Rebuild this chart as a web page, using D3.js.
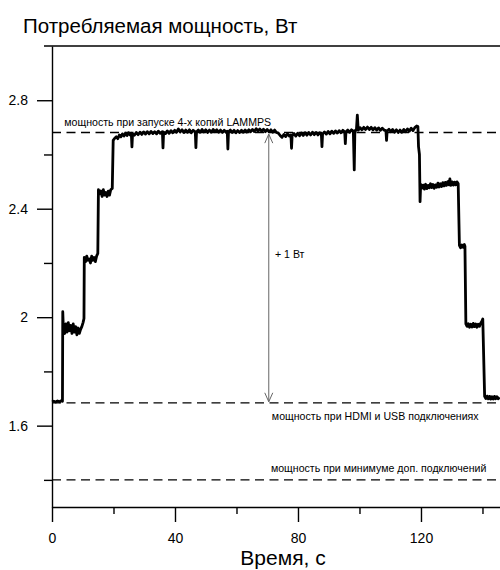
<!DOCTYPE html>
<html>
<head>
<meta charset="utf-8">
<script src="https://cdn.jsdelivr.net/npm/d3@7"></script>
<style>
  body { margin: 0; background: #fff; }
  svg { display: block; font-family: Arial, "Liberation Sans", sans-serif; }
  .axis path, .axis line { stroke: #000; stroke-width: 1.4; }
  .axis text { font-size: 14px; fill: #000; }
  .note { font-size: 10.6px; fill: #000; }
</style>
</head>
<body>
<div id="chart"></div>
<script>
/* CONSTANTS AND GLOBALS */
const width = 500,
  height = 570,
  margin = { top: 46, bottom: 63, left: 52, right: 0 };

// measured power trace: [time, s ; power, W]
const trace = [
  [0, 1.688], [0.6, 1.690], [1.2, 1.687], [1.8, 1.691], [2.4, 1.688], [3.0, 1.692], [3.4, 1.690],
  [3.5, 2.02], [3.7, 1.955], [4.1, 1.94], [4.5, 1.975], [4.9, 1.945], [5.3, 1.98], [5.7, 1.95],
  [6.1, 1.97], [6.5, 1.94], [6.9, 1.975], [7.3, 1.945], [7.7, 1.965], [8.1, 1.935], [8.5, 1.96],
  [8.9, 1.94], [9.3, 1.955], [9.7, 1.965], [10.1, 1.98], [10.4, 1.995],
  [10.5, 2.22], [10.9, 2.205], [11.3, 2.225], [11.7, 2.21], [12.1, 2.215], [12.5, 2.20], [12.9, 2.225],
  [13.3, 2.21], [13.7, 2.22], [14.1, 2.205], [14.5, 2.225], [14.9, 2.235],
  [15.1, 2.47], [15.5, 2.455], [15.9, 2.465], [16.3, 2.445], [16.7, 2.47], [17.1, 2.45], [17.5, 2.46],
  [17.9, 2.445], [18.3, 2.465], [18.7, 2.45], [19.1, 2.47], [19.6, 2.475],
  [19.9, 2.652], [20.4, 2.66], [20.9, 2.665], [21.4, 2.658], [21.9, 2.672], [22.4, 2.665], [22.9, 2.676],
  [23.4, 2.668], [23.9, 2.678], [24.4, 2.67], [24.9, 2.68], [25.4, 2.672], [25.8, 2.678], [26.0, 2.628],
  [26.2, 2.676], [26.8, 2.671], [27.4, 2.681], [28.0, 2.673], [28.6, 2.682], [29.2, 2.674], [29.8, 2.683],
  [30.4, 2.675], [31.0, 2.684], [31.6, 2.676], [32.2, 2.685], [32.8, 2.677], [33.4, 2.684], [34.0, 2.676],
  [34.6, 2.686], [35.2, 2.678], [35.9, 2.684], [36.1, 2.624], [36.3, 2.682], [36.9, 2.677], [37.5, 2.687],
  [38.1, 2.678], [38.7, 2.688], [39.3, 2.68], [39.9, 2.689], [40.5, 2.682], [41.1, 2.694], [41.7, 2.683],
  [42.3, 2.691], [42.9, 2.681], [43.5, 2.69], [44.1, 2.682], [44.7, 2.691], [45.3, 2.68], [45.9, 2.689],
  [46.6, 2.683], [46.8, 2.625], [47.0, 2.683], [47.6, 2.69], [48.2, 2.682], [48.8, 2.692], [49.4, 2.683],
  [50.0, 2.691], [50.6, 2.681], [51.2, 2.69], [51.8, 2.682], [52.4, 2.692], [53.0, 2.684], [53.6, 2.691],
  [54.2, 2.682], [54.8, 2.69], [55.4, 2.681], [56.0, 2.689], [56.6, 2.682], [57.0, 2.686], [57.2, 2.62],
  [57.4, 2.684], [58.0, 2.69], [58.6, 2.681], [59.2, 2.689], [59.8, 2.68], [60.4, 2.688], [61.0, 2.681],
  [61.6, 2.689], [62.2, 2.682], [62.8, 2.69], [63.4, 2.683], [64.0, 2.691], [64.6, 2.684], [65.2, 2.692],
  [65.8, 2.685], [66.4, 2.695], [67.0, 2.686], [67.6, 2.694], [68.2, 2.685], [68.8, 2.693], [69.4, 2.684],
  [70.0, 2.692], [70.6, 2.683], [71.2, 2.691], [71.8, 2.682], [72.4, 2.69], [73.0, 2.681], [73.6, 2.679],
  [74.2, 2.670], [74.8, 2.663], [75.4, 2.674], [76.0, 2.666], [76.6, 2.676], [77.2, 2.668], [77.7, 2.672],
  [77.9, 2.623], [78.1, 2.67], [78.7, 2.677], [79.3, 2.668], [79.9, 2.678], [80.5, 2.669], [81.1, 2.679],
  [81.7, 2.67], [82.3, 2.68], [82.9, 2.671], [83.5, 2.681], [84.1, 2.672], [84.7, 2.682], [85.3, 2.673],
  [85.9, 2.681], [86.5, 2.672], [87.1, 2.68], [87.6, 2.675], [87.8, 2.629], [88.0, 2.676], [88.6, 2.683],
  [89.2, 2.675], [89.8, 2.685], [90.4, 2.676], [91.0, 2.686], [91.6, 2.678], [92.2, 2.687], [92.8, 2.679],
  [93.4, 2.688], [94.0, 2.68], [94.6, 2.689], [95.2, 2.683], [95.4, 2.64], [95.6, 2.684], [96.2, 2.69],
  [96.8, 2.682], [97.4, 2.691], [98.0, 2.686], [98.3, 2.543], [98.5, 2.688], [99.0, 2.69], [99.3, 2.745],
  [99.6, 2.69], [100.2, 2.699], [100.8, 2.691], [101.4, 2.7], [102.0, 2.692], [102.6, 2.701], [103.2, 2.692],
  [103.8, 2.7], [104.4, 2.691], [105.0, 2.699], [105.6, 2.69], [106.2, 2.698], [106.8, 2.689], [107.4, 2.697],
  [108.0, 2.69], [108.6, 2.688], [108.8, 2.652], [109.0, 2.686], [109.6, 2.693], [110.2, 2.684], [110.8, 2.692],
  [111.4, 2.682], [112.0, 2.691], [112.6, 2.681], [113.2, 2.69], [113.8, 2.682], [114.4, 2.692], [115.0, 2.684],
  [115.6, 2.694], [116.2, 2.686], [116.8, 2.697], [117.4, 2.688], [118.0, 2.699], [118.6, 2.705], [119.0, 2.703],
  [119.2, 2.629], [119.5, 2.60], [119.7, 2.426], [119.9, 2.49], [120.3, 2.476], [120.7, 2.487], [121.1, 2.472],
  [121.5, 2.49], [121.9, 2.474], [122.3, 2.486], [122.7, 2.477], [123.1, 2.492], [123.5, 2.478], [123.9, 2.489],
  [124.3, 2.475], [124.7, 2.488], [125.1, 2.479], [125.5, 2.494], [125.9, 2.48], [126.3, 2.492], [126.7, 2.482],
  [127.1, 2.496], [127.5, 2.484], [127.9, 2.497], [128.3, 2.486], [128.7, 2.5], [129.1, 2.488], [129.4, 2.51],
  [129.7, 2.486], [130.1, 2.499], [130.5, 2.487], [130.9, 2.498], [131.3, 2.488], [131.7, 2.499], [132.1, 2.493],
  [132.5, 2.265], [132.9, 2.256], [133.3, 2.266], [133.7, 2.258], [134.1, 2.268], [134.3, 2.262],
  [134.6, 1.975], [135.0, 1.966], [135.4, 1.976], [135.8, 1.963], [136.2, 1.974], [136.6, 1.964], [137.0, 1.977],
  [137.4, 1.965], [137.8, 1.975], [138.2, 1.963], [138.6, 1.974], [139.0, 1.966], [139.4, 1.978], [139.8, 1.985],
  [140.1, 1.993],
  [140.7, 1.708], [141.1, 1.7], [141.5, 1.709], [141.9, 1.699], [142.3, 1.708], [142.7, 1.698], [143.1, 1.707],
  [143.5, 1.698], [143.9, 1.708], [144.3, 1.699], [144.7, 1.707], [145.1, 1.699], [145.6, 1.704]
];

// dashed reference levels, W
const refLevels = [2.681, 1.684, 1.40];
const refLabels = [
  { text: "мощность при запуске 4-х копий LAMMPS", x: 4, y: 2.704 },
  { text: "мощность при HDMI и USB подключениях", x: 71.5, y: 1.621 },
  { text: "мощность при минимуме доп. подключений", x: 71.2, y: 1.428 }
];

// "+1 W" arrow
const arrowTime = 70.5;
const arrowFrom = 2.675, arrowTo = 1.688;
const arrowLabel = { text: "+ 1 Вт", x: 72.5, y: 2.22 };

// axes
const xDomain = [0, 145.7];
const yDomain = [1.3, 3.0];
const xMajor = [0, 40, 80, 120];
const xMinor = [20, 60, 100, 140];
const yMajor = [1.6, 2.0, 2.4, 2.8];
const yMinor = [1.4, 1.8, 2.2, 2.6];

const title = "Потребляемая мощность, Вт";
const xTitle = "Время, с";

/* SCALES */
const xScale = d3.scaleLinear().domain(xDomain).range([margin.left, width - margin.right]);
const yScale = d3.scaleLinear().domain(yDomain).range([height - margin.bottom, margin.top]);

const svg = d3.select("#chart").append("svg")
  .attr("width", width)
  .attr("height", height);

// title
svg.append("text")
  .attr("x", 23)
  .attr("y", 33)
  .attr("font-size", 20.5)
  .text(title);

// top frame line
svg.append("line")
  .attr("x1", margin.left - 8)
  .attr("x2", width)
  .attr("y1", yScale(yDomain[1]))
  .attr("y2", yScale(yDomain[1]))
  .attr("stroke", "#000")
  .attr("stroke-width", 1.4);

// + AXES
svg.append("g")
  .attr("class", "axis y-axis")
  .attr("transform", `translate(${margin.left},0)`)
  .call(d3.axisLeft(yScale).tickValues(yMajor).tickSize(15).tickSizeOuter(0).tickPadding(9).tickFormat(d => String(d)));

svg.append("g")
  .attr("class", "axis y-minor")
  .attr("transform", `translate(${margin.left},0)`)
  .call(d3.axisLeft(yScale).tickValues(yMinor).tickSize(8).tickSizeOuter(0).tickFormat(""));

svg.append("g")
  .attr("class", "axis x-axis")
  .attr("transform", `translate(0,${height - margin.bottom})`)
  .call(d3.axisBottom(xScale).tickValues(xMajor).tickSize(15).tickSizeOuter(0).tickPadding(11));

svg.append("g")
  .attr("class", "axis x-minor")
  .attr("transform", `translate(0,${height - margin.bottom})`)
  .call(d3.axisBottom(xScale).tickValues(xMinor).tickSize(7).tickSizeOuter(0).tickFormat(""));

svg.selectAll(".x-minor path, .y-minor path").remove();

// x title
svg.append("text")
  .attr("x", 283)
  .attr("y", 565)
  .attr("text-anchor", "middle")
  .attr("font-size", 21)
  .text(xTitle);

// reference dashed lines
svg.selectAll(".ref")
  .data(refLevels)
  .join("line")
  .attr("class", "ref")
  .attr("x1", margin.left)
  .attr("x2", width)
  .attr("y1", d => yScale(d))
  .attr("y2", d => yScale(d))
  .attr("stroke", "#000")
  .attr("stroke-width", 1.4)
  .attr("stroke-dasharray", "9,5.5");

svg.selectAll(".note")
  .data(refLabels.concat([arrowLabel]))
  .join("text")
  .attr("class", "note")
  .attr("x", d => xScale(d.x))
  .attr("y", d => yScale(d.y))
  .text(d => d.text);

// arrow
const ax = xScale(arrowTime);
const aTop = yScale(arrowFrom), aBot = yScale(arrowTo);
svg.append("line")
  .attr("x1", ax).attr("x2", ax)
  .attr("y1", aTop).attr("y2", aBot)
  .attr("stroke", "#666")
  .attr("stroke-width", 1);
svg.append("path")
  .attr("d", `M${ax - 4},${aTop + 9}L${ax},${aTop}L${ax + 4},${aTop + 9}`)
  .attr("fill", "none")
  .attr("stroke", "#666");
svg.append("path")
  .attr("d", `M${ax - 4},${aBot - 9}L${ax},${aBot}L${ax + 4},${aBot - 9}`)
  .attr("fill", "none")
  .attr("stroke", "#666");

// power trace
const line = d3.line()
  .x(d => xScale(d[0]))
  .y(d => yScale(d[1]));

svg.append("path")
  .datum(trace)
  .attr("fill", "none")
  .attr("stroke", "#000")
  .attr("stroke-width", 2.8)
  .attr("stroke-linejoin", "round")
  .attr("d", line);
</script>
</body>
</html>
